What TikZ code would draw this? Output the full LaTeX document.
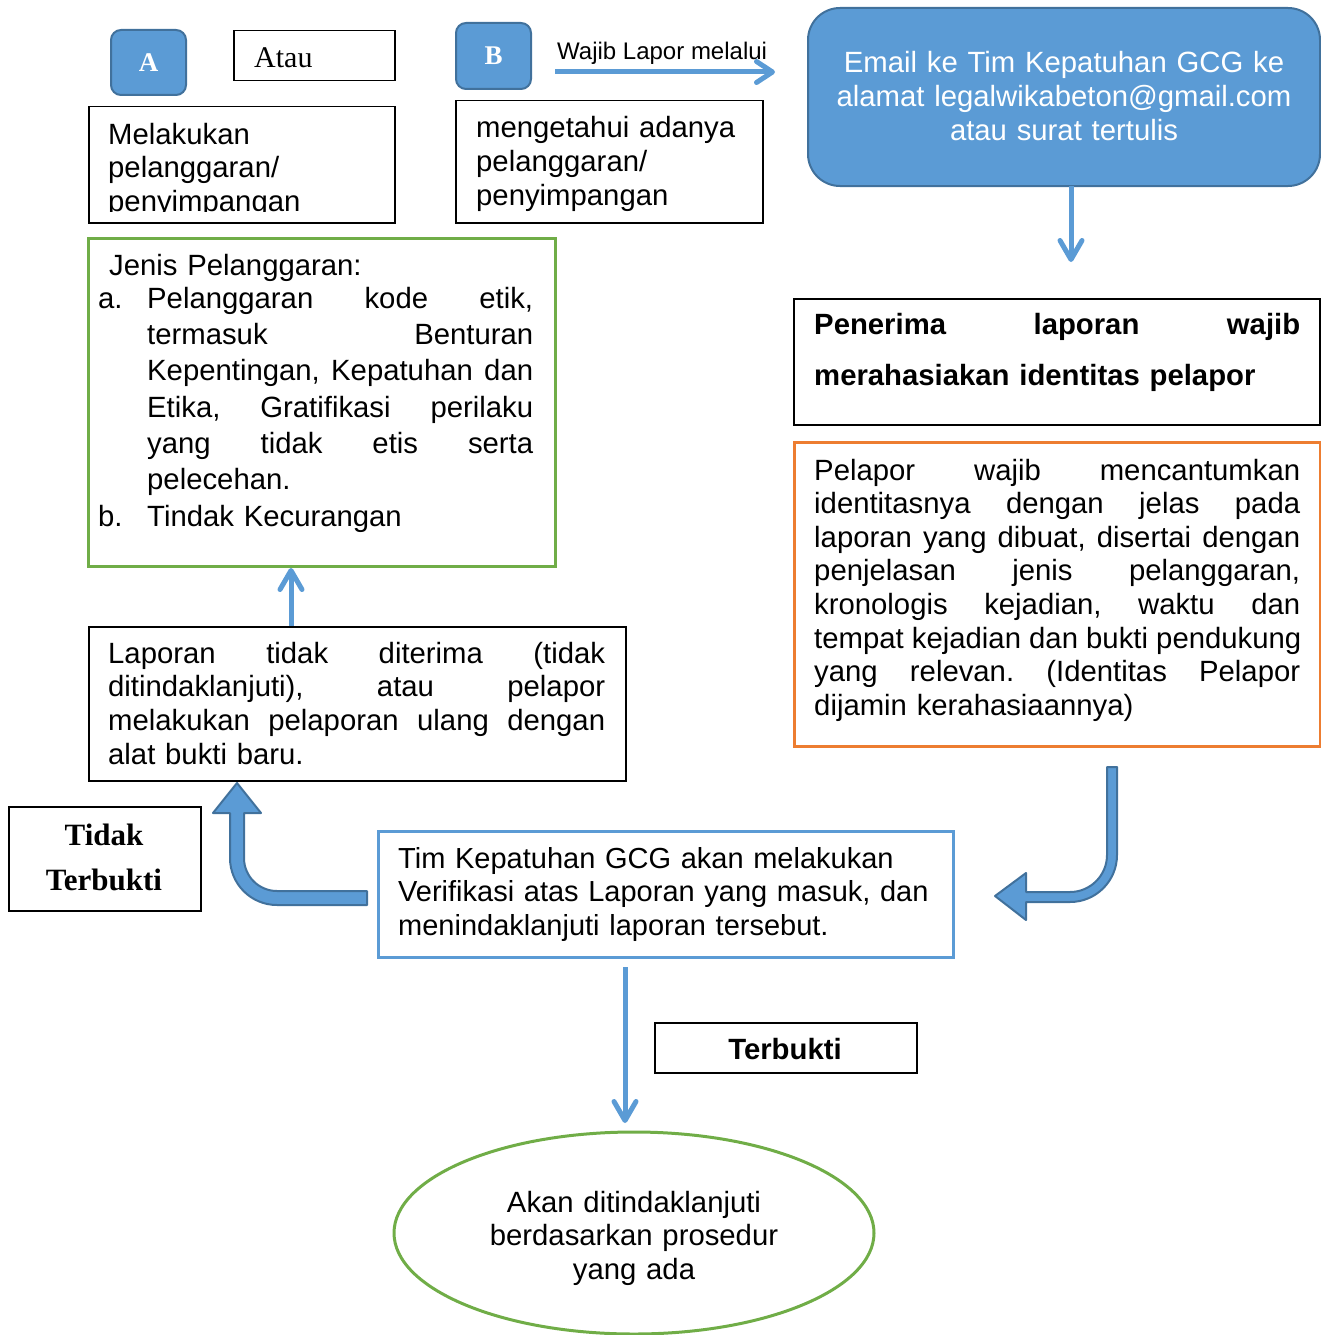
\documentclass[tikz,border=0pt]{standalone}
\usepackage{fontspec}
\setmainfont{Liberation Sans}
\newfontfamily\seriffont{Liberation Serif}
\usetikzlibrary{arrows.meta,shapes.geometric}
\definecolor{bluefill}{HTML}{5B9BD5}
\definecolor{bluedark}{HTML}{41719C}
\definecolor{greenc}{HTML}{70AD47}
\definecolor{orangec}{HTML}{ED7D31}
\frenchspacing
\newcommand{\jline}[2]{\leavevmode\hbox to #1{\spaceskip=0.278em plus 1fil\relax\xspaceskip=0.278em plus 1fil\relax #2}}
\newcommand{\bodyfont}{\fontsize{29.3pt}{33.7pt}\selectfont}
\begin{document}
\begin{tikzpicture}[x=1pt,y=-1pt,
  blkbox/.style={draw=black, line width=1.5pt, inner sep=0pt, anchor=north west},
  colbox/.style={line width=2.5pt, inner sep=0pt, anchor=north west},
  bluebtn/.style={fill=bluefill, draw=bluedark, line width=2pt, inner sep=0pt, rounded corners=10pt, text=white, font=\seriffont\bfseries\fontsize{27pt}{30pt}\selectfont},
  txt/.style={inner sep=0pt, anchor=base west, font=\bodyfont, align=left},
  ctxt/.style={inner sep=0pt, anchor=base, font=\bodyfont, align=center},
  thinarrow/.style={draw=bluefill, line width=5pt, -{Straight Barb[length=19pt,width=22pt,round]}},
  bigarrow/.style={fill=bluefill, draw=bluedark, line width=2pt, line join=round}
]
\useasboundingbox (0,0) rectangle (1320,1335);

% --- top row
\node[bluebtn, minimum width=75pt, minimum height=65pt, anchor=north west] (boxa) at (110,29) {A};
\node[blkbox, minimum width=161pt, minimum height=50pt] (atau) at (233,30) {};
\node[inner sep=0pt, anchor=base west, font=\seriffont\fontsize{30pt}{34pt}\selectfont] (atau-t) at (254,68) {Atau};
\node[bluebtn, minimum width=75pt, minimum height=66pt, anchor=north west] (boxb) at (455,22) {B};
\node[inner sep=0pt, anchor=base west, font=\fontsize{24pt}{28pt}\selectfont] (wajib) at (557,60) {Wajib Lapor melalui};
\coordinate (wl1) at (555,72);
\coordinate (wl2) at (775,72);
\draw[thinarrow, -{Straight Barb[length=16pt,width=21pt,round]}] (wl1) -- (wl2);

% --- A / B boxes
\node[blkbox, minimum width=306pt, minimum height=116pt] (melakukan) at (88,106) {};
\begin{scope}
\clip (89,107) rectangle (393,211);
\node[txt, text width=280pt] (melakukan-t) at (108,144) {Melakukan\\pelanggaran/\\penyimpangan};
\end{scope}
\node[blkbox, minimum width=307pt, minimum height=122pt] (mengetahui) at (455,100) {};
\node[txt, text width=280pt] (mengetahui-t) at (476,138) {mengetahui adanya\\pelanggaran/\\penyimpangan};

% --- email
\node[fill=bluefill, draw=bluedark, line width=2pt, rounded corners=32pt, inner sep=0pt, anchor=north west, minimum width=512pt, minimum height=178pt] (email) at (807,7) {};
\node[ctxt, text width=500pt, text=white] (email-t) at (1064,73) {Email ke Tim Kepatuhan GCG ke\\alamat legalwikabeton@gmail.com\\atau surat tertulis};
\coordinate (em1) at (1071,186);
\coordinate (em2) at (1071,262);
\draw[thinarrow] (em1) -- (em2);

% --- penerima
\node[blkbox, minimum width=526pt, minimum height=126pt] (penerima) at (793,298) {};
\node[txt, text width=486pt, font=\bfseries\fontsize{29.3pt}{51pt}\selectfont] (penerima-t) at (814,334) {\jline{486pt}{Penerima laporan wajib}\\merahasiakan identitas pelapor};

% --- orange
\node[colbox, draw=orangec, minimum width=526pt, minimum height=304pt] (pelapor) at (793,441) {};
\node[txt, text width=486pt, font=\fontsize{29.3pt}{33.6pt}\selectfont] (pelapor-t) at (814,480) {\jline{486pt}{Pelapor wajib mencantumkan}\\
\jline{486pt}{identitasnya dengan jelas pada}\\
\jline{486pt}{laporan yang dibuat, disertai dengan}\\
\jline{486pt}{penjelasan jenis pelanggaran,}\\
\jline{486pt}{kronologis kejadian, waktu dan}\\
\jline{486pt}{tempat kejadian dan bukti pendukung}\\
\jline{486pt}{yang relevan. (Identitas Pelapor}\\
dijamin kerahasiaannya)};

% --- green
\node[colbox, draw=greenc, minimum width=467pt, minimum height=328pt] (jenis) at (87,237) {};
\node[txt, text width=435pt, font=\fontsize{29.3pt}{36.3pt}\selectfont] (jenis-t) at (98,275) {\hspace*{11pt}Jenis Pelanggaran:\\[-3pt]
\makebox[49pt][l]{a.}\jline{386pt}{Pelanggaran kode etik,}\\
\hspace*{49pt}\jline{386pt}{termasuk Benturan}\\
\hspace*{49pt}\jline{386pt}{Kepentingan, Kepatuhan dan}\\
\hspace*{49pt}\jline{386pt}{Etika, Gratifikasi perilaku}\\
\hspace*{49pt}\jline{386pt}{yang tidak etis serta}\\
\hspace*{49pt}pelecehan.\\
\makebox[49pt][l]{b.}Tindak Kecurangan};

% --- laporan
\node[blkbox, minimum width=537pt, minimum height=154pt] (laporan) at (88,626) {};
\node[txt, text width=497pt] (laporan-t) at (108,663) {\jline{497pt}{Laporan tidak diterima (tidak}\\
\jline{497pt}{ditindaklanjuti), atau pelapor}\\
\jline{497pt}{melakukan pelaporan ulang dengan}\\
alat bukti baru.};
\coordinate (lp1) at (291,626);
\coordinate (lp2) at (291,568);
\draw[thinarrow] (lp1) -- (lp2);

% --- tidak terbukti
\node[blkbox, minimum width=192pt, minimum height=104pt] (tidak) at (8,806) {};
\node[ctxt, text width=190pt, font=\seriffont\bfseries\fontsize{31pt}{45pt}\selectfont] (tidak-t) at (104,845) {Tidak\\Terbukti};

% --- tim
\node[colbox, draw=bluefill, minimum width=575pt, minimum height=126pt] (tim) at (377,830) {};
\node[txt, text width=550pt, font=\fontsize{29pt}{33.7pt}\selectfont] (tim-t) at (398,868) {Tim Kepatuhan GCG akan melakukan\\Verifikasi atas Laporan yang masuk, dan\\menindaklanjuti laporan tersebut.};

% --- block arrows
\draw[bigarrow] (367,891) -- (277,891) .. controls (258.8,891) and (244,876.2) .. (244,858) -- (244,813) -- (261,813) -- (237,783) -- (213,813) -- (230,813) -- (230,858) .. controls (230,884) and (251,905) .. (277,905) -- (367,905) -- cycle;
\draw[bigarrow] (1107,767) -- (1107,855) .. controls (1107,875.4) and (1090.4,892) .. (1070,892) -- (1026,892) -- (1026,873) -- (995,896) -- (1026,920) -- (1026,902) -- (1070,902) .. controls (1096,902) and (1117,881) .. (1117,855) -- (1117,767) -- cycle;

% --- terbukti
\coordinate (tm1) at (625,967);
\coordinate (tm2) at (625,1123);
\draw[thinarrow] (tm1) -- (tm2);
\node[blkbox, minimum width=262pt, minimum height=50pt] (terbukti) at (654,1022) {};
\node[ctxt, font=\bfseries\fontsize{29.3pt}{34pt}\selectfont] (terbukti-t) at (785,1059) {Terbukti};

% --- ellipse
\node[ellipse, draw=greenc, line width=3pt, minimum width=480pt, minimum height=202pt, inner sep=0pt] (akan) at (634,1233) {};
\node[ctxt, text width=400pt] (akan-t) at (634,1212) {Akan ditindaklanjuti\\berdasarkan prosedur\\yang ada};
\end{tikzpicture}
\end{document}
